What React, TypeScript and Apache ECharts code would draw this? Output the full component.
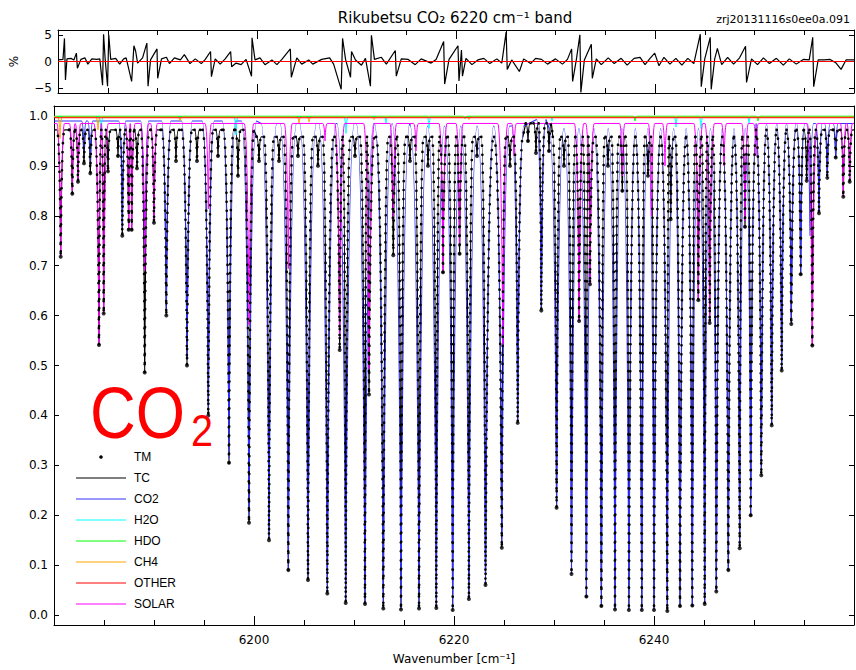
import React, { useEffect, useRef } from "react";
import * as echarts from "echarts";

// ---------------- axis ranges and ticks ----------------
const X_MIN = 6180;
const X_MAX = 6260;
const xTickLabels = [6200, 6220, 6240];
const transTicks = [0, 0.1, 0.2, 0.3, 0.4, 0.5, 0.6, 0.7, 0.8, 0.9, 1.0];
const residualTicks = [-5, 0, 5];

// ---------------- CO2 (blue) absorption lines ----------------
const co2LineWn = [
  6183.0, 6183.63, 6186.83, 6189.07, 6191.23, 6193.3, 6195.43, 6197.5, 6199.5,
  6201.5, 6203.43, 6205.4, 6207.33, 6209.17, 6211.1, 6212.93, 6214.7, 6216.5,
  6218.23, 6219.87, 6221.49, 6223.15, 6224.78, 6226.37, 6228.73, 6230.26,
  6231.75, 6233.24, 6234.74, 6236.1, 6237.49, 6238.78, 6240.0, 6241.33, 6242.6,
  6243.83, 6245.07, 6246.23, 6247.43, 6248.57, 6249.67, 6250.73, 6251.77,
  6252.77, 6253.73, 6254.67, 6255.6, 6256.5, 6257.33, 6258.17,
];
const co2LineMin = [
  0.929, 0.909, 0.774, 0.7, 0.609, 0.512, 0.411, 0.314, 0.19,
  0.155, 0.094, 0.072, 0.045, 0.026, 0.023, 0.014, 0.011, 0.014,
  0.015, 0.012, 0.033, 0.062, 0.14, 0.389, 0.617, 0.218,
  0.084, 0.038, 0.019, 0.012, 0.011, 0.011, 0.011, 0.009, 0.019,
  0.02, 0.023, 0.048, 0.092, 0.136, 0.203, 0.284, 0.384,
  0.491, 0.586, 0.685, 0.76, 0.807, 0.878, 0.919,
];
const co2ContinuumEdge = [6180, 6200.5, 6215.5, 6227.5, 6229.5, 6250.2];
const co2ContinuumLevel = [0.99, 0.985, 0.98, 0.993, 0.975, 0.985];

// ---------------- SOLAR (magenta) lines ----------------
const solarLineWn = [
  6180.67, 6181.83, 6182.4, 6184.5, 6184.97, 6187.47, 6187.77, 6189.07, 6190.0,
  6195.43, 6199.5, 6203.43, 6207.1, 6208.57, 6211.5, 6213.93, 6216.2, 6218.9,
  6220.56, 6224.88, 6226.0, 6232.51, 6233.6, 6236.83, 6239.75, 6241.1, 6244.43,
  6245.57, 6247.0, 6249.1, 6250.2, 6255.83, 6258.93, 6259.57,
];
const solarLineMin = [
  0.72, 0.85, 0.87, 0.545, 0.605, 0.775, 0.775, 0.69, 0.786,
  0.814, 0.582, 0.694, 0.95, 0.554, 0.493, 0.793, 0.93, 0.69,
  0.745, 0.54, 0.92, 0.589, 0.663, 0.88, 0.8, 0.9, 0.631,
  0.585, 0.9, 0.79, 0.92, 0.54, 0.84, 0.87,
];
const solarContinuum = 0.985;

// ---------------- H2O (cyan), HDO (green), CH4 (orange), OTHER (red) ----------------
const h2oLineWn = [6184.7, 6198.2, 6209.2, 6213.2, 6217.5, 6229.8, 6242.2, 6244.7, 6249.5];
const h2oLineMin = [0.962, 0.962, 0.965, 0.985, 0.975, 0.99, 0.978, 0.975, 0.985];
const h2oContinuum = 0.999;

const hdoLineWn = [6221.1, 6238.1, 6250.4];
const hdoLineMin = [0.995, 0.99, 0.99];
const hdoContinuum = 0.9995;

const ch4LineWn = [6180.6, 6184.4, 6192.6, 6204.5, 6205.5, 6212.0, 6221.5];
const ch4LineMin = [0.955, 0.972, 0.99, 0.986, 0.988, 0.993, 0.993];
const ch4Continuum = 0.998;

const otherLevel = 0.9965;

// ---------------- TC (total calculated, black) minima; TM measured points follow them ----------------
const tcLineWn = [
  6180.67, 6181.83, 6182.4, 6183.0, 6183.63, 6184.5, 6184.97, 6185.4, 6186.4,
  6186.83, 6187.47, 6187.77, 6188.3, 6189.07, 6190.0, 6191.23, 6192.2, 6193.3,
  6194.3, 6195.43, 6196.4, 6197.5, 6198.4, 6199.5, 6200.5, 6201.5, 6202.5,
  6203.43, 6204.4, 6205.4, 6206.4, 6207.33, 6208.57, 6209.17, 6210.1, 6211.1,
  6211.5, 6212.93, 6213.93, 6214.7, 6215.6, 6216.5, 6217.4, 6218.23, 6218.9,
  6219.87, 6220.56, 6221.49, 6222.3, 6223.15, 6224.78, 6225.6, 6226.37, 6227.4,
  6228.2, 6228.73, 6229.5, 6230.26, 6231.0, 6231.75, 6232.51, 6233.24, 6233.6,
  6234.74, 6235.4, 6236.1, 6236.83, 6237.49, 6238.78, 6239.4, 6240.0, 6241.33,
  6241.67, 6242.6, 6243.83, 6244.43, 6245.07, 6245.57, 6246.23, 6247.43,
  6248.57, 6249.1, 6249.67, 6250.73, 6251.77, 6252.77, 6253.73, 6254.67,
  6255.27, 6255.83, 6256.5, 6257.33, 6258.17, 6258.93, 6259.57,
];
const tcLineMin = [
  0.718, 0.844, 0.868, 0.905, 0.885, 0.541, 0.604, 0.889, 0.92,
  0.76, 0.772, 0.772, 0.895, 0.486, 0.786, 0.6, 0.91, 0.5,
  0.91, 0.4, 0.92, 0.305, 0.88, 0.185, 0.91, 0.15, 0.91,
  0.09, 0.92, 0.07, 0.9, 0.043, 0.531, 0.024, 0.92, 0.022,
  0.442, 0.013, 0.721, 0.011, 0.91, 0.013, 0.9, 0.014, 0.687,
  0.01, 0.724, 0.032, 0.92, 0.06, 0.135, 0.9, 0.385, 0.95,
  0.926, 0.61, 0.93, 0.215, 0.9, 0.082, 0.589, 0.037, 0.663,
  0.018, 0.9, 0.011, 0.85, 0.01, 0.01, 0.88, 0.01, 0.008,
  0.793, 0.018, 0.019, 0.631, 0.022, 0.585, 0.047, 0.09,
  0.134, 0.778, 0.2, 0.28, 0.38, 0.49, 0.583, 0.683,
  0.87, 0.54, 0.805, 0.876, 0.917, 0.838, 0.868,
];
const tcContinuumEdge = [6180, 6200, 6227, 6229.6, 6250];
const tcContinuumLevel = [0.972, 0.958, 0.985, 0.958, 0.972];

// ---------------- residual (%) ----------------
const residualWn = [
  6180.0, 6180.5, 6180.65, 6180.75, 6180.9, 6181.3, 6181.6, 6181.85, 6181.95, 6182.3,
  6182.7, 6183.0, 6183.4, 6183.9, 6184.2, 6184.48, 6184.58, 6184.75, 6184.98, 6185.1,
  6185.3, 6185.8, 6186.2, 6186.6, 6186.85, 6187.4, 6187.63, 6187.8, 6188.0, 6188.5,
  6188.93, 6189.05, 6189.3, 6189.95, 6190.02, 6190.4, 6190.9, 6191.2, 6191.7, 6192.3,
  6192.7, 6193.26, 6193.8, 6194.4, 6194.8, 6195.33, 6195.42, 6195.8, 6196.3, 6196.8,
  6197.35, 6197.45, 6197.9, 6198.4, 6198.9, 6199.45, 6199.5, 6199.8, 6200.3, 6200.8,
  6201.5, 6202.0, 6202.5, 6203.35, 6203.45, 6204.0, 6204.5, 6205.2, 6205.6, 6206.5,
  6207.3, 6207.7, 6208.46, 6208.6, 6208.9, 6209.4, 6209.5, 6209.9, 6210.5, 6210.9,
  6211.4, 6211.5, 6211.8, 6212.5, 6213.0, 6213.9, 6214.0, 6214.5, 6215.2, 6215.9,
  6216.5, 6217.5, 6218.0, 6218.76, 6218.86, 6219.3, 6220.2, 6220.3, 6220.55, 6220.65,
  6221.0, 6221.6, 6222.2, 6222.8, 6223.4, 6224.1, 6224.6, 6225.04, 6225.15, 6225.6,
  6226.37, 6226.8, 6227.5, 6228.0, 6228.6, 6229.2, 6230.0, 6230.7, 6231.2, 6231.62,
  6231.72, 6232.1, 6232.45, 6232.55, 6232.9, 6233.6, 6233.7, 6234.1, 6234.6, 6235.3,
  6235.9, 6236.6, 6237.2, 6237.9, 6238.5, 6239.0, 6239.5, 6239.97, 6240.4, 6240.9,
  6241.5, 6242.1, 6242.7, 6243.3, 6243.9, 6244.55, 6244.65, 6245.0, 6245.55, 6245.65,
  6246.0, 6246.27, 6246.7, 6247.3, 6247.9, 6248.5, 6249.1, 6249.2, 6249.7, 6250.3,
  6250.9, 6251.5, 6252.2, 6252.9, 6253.5, 6254.2, 6254.9, 6255.5, 6255.85, 6255.95,
  6256.4, 6257.0, 6257.6, 6258.2, 6258.7, 6259.2, 6260.0,
];
const residualVal = [
  0.3, 0.4, 4.4, -3.5, 0.5, 0.6, 0.3, 1.6, -1.3, 0.4,
  0.7, -0.5, 0.5, 0.4, 0.5, -4.5, 5.2, 0.2, -4.7, 5.1,
  0.4, 0.6, -0.5, 0.5, 0.7, -3.8, 3.0, 2.0, -0.3, 0.7,
  3.5, -4.7, 0.3, 2.4, -3.2, 0.5, 0.8, -0.4, 0.7, 0.3,
  1.3, -0.4, 0.5, -0.4, 0.4, 1.9, -2.9, 0.5, -0.5, 0.5,
  1.9, -1.0, -0.3, -0.6, 0.4, -2.8, 4.5, 0.3, 0.7, -0.6,
  0.3, -0.6, 0.4, 2.4, -3.0, 0.7, -0.5, 0.3, -0.5, 0.4,
  0.7, -0.5, -5.3, 4.4, 0.4, -3.0, 1.9, 0.3, -0.7, 0.6,
  -4.7, 5.0, 0.4, 0.8, -0.5, 2.1, -2.8, 0.5, 0.4, -0.6,
  0.5, -0.3, 0.4, 3.8, -4.3, 0.4, 3.0, -3.7, 2.2, -2.8,
  0.6, -0.6, 0.3, 0.6, -0.4, 0.5, -0.3, 5.6, -1.5, 0.3,
  -1.9, 0.5, -0.4, 0.6, 0.4, -0.5, 0.5, -0.5, 0.4, 2.4,
  -3.8, 0.4, 5.1, -5.9, 0.3, 3.3, -3.2, 0.5, -0.6, 0.7,
  -0.4, 0.6, -0.7, 0.6, 0.8, -0.6, 0.6, 1.6, -0.8, 0.8,
  -0.5, 0.6, -0.7, 0.6, -0.4, 5.2, -4.8, 0.5, 4.6, -5.3,
  0.5, 2.5, -0.6, 0.8, -0.5, 0.7, 2.9, -4.0, 0.5, -0.6,
  0.7, -0.4, 0.6, -0.7, 0.5, -0.5, 0.4, 0.3, 4.6, -4.8,
  0.3, 0.3, 0.4, -0.3, -1.5, 0.3, 0.3,
];

// ---------------- legend ----------------
const legendNames = ["TM", "TC", "CO2", "H2O", "HDO", "CH4", "OTHER", "SOLAR"];

// ---------------- styles ----------------
const COLORS: Record<string, string> = {
  TM: "#000000",
  TC: "#000000",
  CO2: "#3030ff",
  H2O: "#00ffff",
  HDO: "#00ff00",
  CH4: "#ffa500",
  OTHER: "#ff0000",
  SOLAR: "#ff00ff",
};
const AXIS_FONT = "DejaVu Sans";
const GLYPH_W0 = 0.2; // half-base of a line glyph (cm-1)
const GLYPH_W1 = 0.7; // extra half-base per unit depth
const CP_OUT = 0.8;
const CP_IN = 0.03;

function stepLevel(edges: number[], levels: number[]) {
  return (w: number) => {
    let v = levels[0];
    for (let k = 0; k < edges.length; k++) if (w >= edges[k]) v = levels[k];
    return v;
  };
}
const constLevel = (v: number) => () => v;

function profileSeries(
  name: string,
  wn: number[],
  mins: number[],
  topOf: (w: number) => number,
  color: string,
  width: number,
  z: number,
  extraStyle: any = {}
) {
  const order = wn.map((_, i) => i).sort((a, b) => wn[a] - wn[b]);
  const data = order.map((i) => [wn[i], mins[i], topOf(wn[i])]);
  const halfBase = (j: number) => GLYPH_W0 + GLYPH_W1 * (data[j][2] - data[j][1]);
  return {
    type: "custom",
    name,
    xAxisIndex: 2,
    yAxisIndex: 2,
    z,
    silent: true,
    clip: true,
    dimensions: ["wn", "min", "top"],
    encode: { x: 0, y: 1 },
    data,
    renderItem: (params: any, api: any) => {
      const i = params.dataIndex;
      const c = data[i][0];
      const m = data[i][1];
      const t = data[i][2];
      const gapL = i > 0 ? (c - data[i - 1][0]) / 2 : Infinity;
      const gapR = i < data.length - 1 ? (data[i + 1][0] - c) / 2 : Infinity;
      const wl = Math.min(halfBase(i), gapL);
      const wr = Math.min(halfBase(i), gapR);
      const p0 = api.coord([c - wl, t]);
      const pc = api.coord([c, m]);
      const p1 = api.coord([c + wr, t]);
      let d = "";
      if (i === 0) {
        const s = api.coord([X_MIN, t]);
        d += `M${s[0]},${s[1]}L${p0[0]},${p0[1]}`;
      } else {
        d += `M${p0[0]},${p0[1]}`;
      }
      const dl = pc[0] - p0[0];
      const dr = p1[0] - pc[0];
      d += `C${p0[0] + CP_OUT * dl},${p0[1]} ${pc[0] - CP_IN * dl},${pc[1]} ${pc[0]},${pc[1]}`;
      d += `C${pc[0] + CP_IN * dr},${pc[1]} ${p1[0] - CP_OUT * dr},${p1[1]} ${p1[0]},${p1[1]}`;
      if (i < data.length - 1) {
        const n = data[i + 1];
        const wn2 = Math.min(halfBase(i + 1), (n[0] - c) / 2);
        const q = api.coord([n[0] - wn2, n[2]]);
        d += `L${q[0]},${q[1]}`;
      } else {
        const e = api.coord([X_MAX, t]);
        d += `L${e[0]},${e[1]}`;
      }
      return {
        type: "path",
        shape: { pathData: d },
        style: { fill: "none", stroke: color, lineWidth: width, ...extraStyle },
      };
    },
  };
}

function xAxisBase(gridIndex: number, position: string, showLabels: boolean, extra: any = {}) {
  return {
    type: "value",
    gridIndex,
    position,
    min: X_MIN,
    max: X_MAX,
    interval: 20,
    axisLine: { show: true, onZero: false, lineStyle: { color: "#000", width: 1 } },
    axisTick: { show: true, inside: true, length: 9, lineStyle: { color: "#000" } },
    minorTick: { show: true, splitNumber: 4, length: 5, lineStyle: { color: "#000" } },
    splitLine: { show: false },
    minorSplitLine: { show: false },
    axisLabel: {
      show: showLabels,
      customValues: xTickLabels,
      formatter: (v: number) => String(Math.round(v)),
      margin: 9,
      color: "#000",
      fontFamily: AXIS_FONT,
      fontSize: 12,
    },
    ...extra,
  };
}

function yAxisBase(gridIndex: number, position: string, showLabels: boolean, range: number[], ticks: number[], fmt: (v: number) => string, extra: any = {}) {
  return {
    type: "value",
    gridIndex,
    position,
    min: range[0],
    max: range[1],
    axisLine: { show: true, onZero: false, lineStyle: { color: "#000", width: 1 } },
    axisTick: { show: true, inside: true, length: 5, customValues: ticks, lineStyle: { color: "#000" } },
    splitLine: { show: false },
    axisLabel: {
      show: showLabels,
      customValues: ticks,
      formatter: fmt,
      margin: 6,
      color: "#000",
      fontFamily: AXIS_FONT,
      fontSize: 12,
    },
    ...extra,
  };
}

export default function App() {
  const ref = useRef<HTMLDivElement>(null);
  useEffect(() => {
    if (!ref.current) return;
    const chart = echarts.init(ref.current, null, { renderer: "svg" });

    const legendTop = 457;
    const legendPitch = 21;
    const legendGraphics: any[] = [];
    legendNames.forEach((nm, k) => {
      const y = legendTop + k * legendPitch;
      if (nm === "TM") {
        legendGraphics.push({ type: "circle", shape: { cx: 101, cy: y, r: 1.8 }, style: { fill: "#000" }, silent: true });
      } else {
        legendGraphics.push({
          type: "line",
          shape: { x1: 76, y1: y, x2: 126, y2: y },
          style: { stroke: COLORS[nm], lineWidth: 1 },
          silent: true,
        });
      }
      legendGraphics.push({
        type: "text",
        x: 134,
        y,
        style: { text: nm, fill: "#000", font: "12px 'Liberation Sans'", verticalAlign: "middle", align: "left" },
        silent: true,
      });
    });

    const tcLevel = stepLevel(tcContinuumEdge, tcContinuumLevel);

    const option: any = {
      animation: false,
      backgroundColor: "#fff",
      grid: [
        { left: 54, right: 2, top: 30, height: 63 },
        { left: 54, right: 2, top: 106, height: 525 },
      ],
      xAxis: [
        xAxisBase(0, "bottom", false),
        xAxisBase(0, "top", false),
        xAxisBase(1, "bottom", true, {
          name: "Wavenumber [cm⁻¹]",
          nameLocation: "middle",
          nameGap: 28,
          nameTextStyle: { color: "#000", fontFamily: AXIS_FONT, fontSize: 12 },
        }),
        xAxisBase(1, "top", false),
      ],
      yAxis: [
        yAxisBase(0, "left", true, [-6, 6], residualTicks, (v: number) => (v < 0 ? "−" + Math.abs(v) : String(v)), {
          name: "%",
          nameLocation: "middle",
          nameGap: 38,
          nameRotate: 90,
          nameTextStyle: { color: "#000", fontFamily: AXIS_FONT, fontSize: 12 },
        }),
        yAxisBase(0, "right", false, [-6, 6], residualTicks, (v: number) => String(v)),
        yAxisBase(1, "left", true, [-0.02, 1.02], transTicks, (v: number) => v.toFixed(1)),
        yAxisBase(1, "right", false, [-0.02, 1.02], transTicks, (v: number) => v.toFixed(1)),
      ],
      series: [
        {
          type: "line",
          name: "residual",
          xAxisIndex: 0,
          yAxisIndex: 0,
          data: residualWn.map((w, i) => [w, residualVal[i]]),
          showSymbol: false,
          silent: true,
          lineStyle: { color: "#000", width: 1.2 },
          z: 2,
          markLine: {
            silent: true,
            symbol: "none",
            label: { show: false },
            lineStyle: { color: "#ff0000", width: 1.2, type: "solid" },
            data: [{ yAxis: 0 }],
          },
        },
        profileSeries("TC", tcLineWn, tcLineMin, tcLevel, COLORS.TC, 1.2, 2),
        profileSeries("CO2", co2LineWn, co2LineMin, stepLevel(co2ContinuumEdge, co2ContinuumLevel), COLORS.CO2, 1.1, 3),
        profileSeries("H2O", h2oLineWn, h2oLineMin, constLevel(h2oContinuum), COLORS.H2O, 1, 4),
        profileSeries("HDO", hdoLineWn, hdoLineMin, constLevel(hdoContinuum), COLORS.HDO, 1, 5),
        profileSeries("CH4", ch4LineWn, ch4LineMin, constLevel(ch4Continuum), COLORS.CH4, 1, 6),
        {
          type: "line",
          name: "OTHER",
          xAxisIndex: 2,
          yAxisIndex: 2,
          data: [
            [X_MIN, otherLevel],
            [X_MAX, otherLevel],
          ],
          showSymbol: false,
          silent: true,
          lineStyle: { color: COLORS.OTHER, width: 1 },
          z: 7,
        },
        profileSeries("SOLAR", solarLineWn, solarLineMin, constLevel(solarContinuum), COLORS.SOLAR, 1, 8),
        // TM measured points drawn as dots along the measured profile
        profileSeries("TM", tcLineWn, tcLineMin, tcLevel, COLORS.TM, 2.7, 9, {
          lineDash: [0.01, 9],
          lineCap: "round",
        }),
        {
          type: "scatter",
          name: "TM minima",
          xAxisIndex: 2,
          yAxisIndex: 2,
          data: tcLineWn.map((w, i) => [w, tcLineMin[i]]),
          symbol: "circle",
          symbolSize: 4,
          silent: true,
          itemStyle: { color: "#000" },
          z: 10,
        },
      ],
      graphic: [
        {
          type: "text",
          x: 455,
          y: 18,
          style: {
            text: "Rikubetsu CO₂ 6220 cm⁻¹ band",
            fill: "#000",
            font: `15px '${AXIS_FONT}'`,
            align: "center",
            verticalAlign: "middle",
          },
          silent: true,
        },
        {
          type: "text",
          x: 850,
          y: 19,
          style: {
            text: "zrj20131116s0ee0a.091",
            fill: "#000",
            font: `11px '${AXIS_FONT}'`,
            align: "right",
            verticalAlign: "middle",
          },
          silent: true,
        },
        {
          type: "text",
          x: 90,
          y: 413,
          scaleX: 0.88,
          style: { text: "CO", fill: "#ff0000", font: "72px 'Liberation Sans'", align: "left", verticalAlign: "middle" },
          silent: true,
          z: 100,
        },
        {
          type: "text",
          x: 191,
          y: 431,
          scaleX: 0.9,
          style: { text: "2", fill: "#ff0000", font: "44px 'Liberation Sans'", align: "left", verticalAlign: "middle" },
          silent: true,
          z: 100,
        },
        ...legendGraphics,
      ],
    };

    chart.setOption(option);
    return () => chart.dispose();
  }, []);

  return (
    <div
      ref={ref}
      style={{ position: "absolute", left: 0, top: 0, width: 856, height: 670, background: "#fff" }}
    />
  );
}
